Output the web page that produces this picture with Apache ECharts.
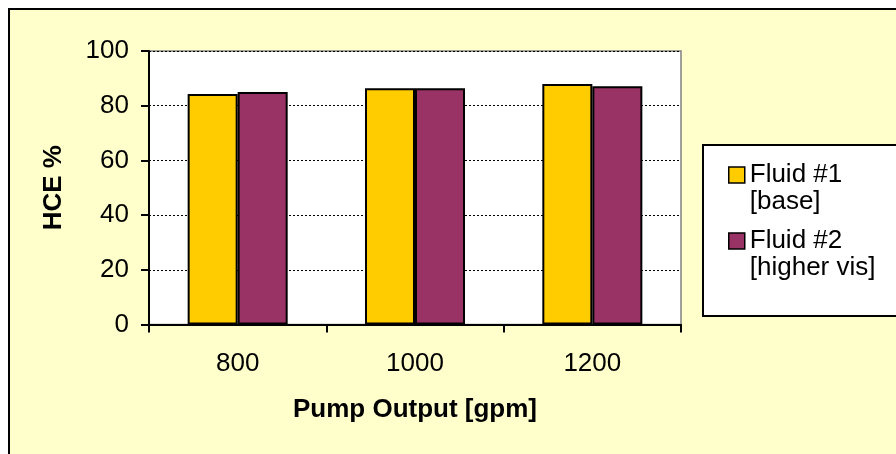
<!DOCTYPE html>
<html><head><meta charset="utf-8">
<script src="https://cdn.jsdelivr.net/npm/echarts@6/dist/echarts.min.js"></script>
<style>
html,body{margin:0;padding:0;background:#fff;overflow:hidden;width:896px;height:454px}
#frame{position:absolute;left:8px;top:8px;width:1000px;height:1000px;border:2px solid #000;background:#FFFFCC}
#chart{position:absolute;left:0;top:0;width:896px;height:454px}
</style></head><body>
<div id="frame"></div><div id="chart"></div>
<script>
const categories = ['800', '1000', '1200'];
const seriesNames = ['Fluid #1\n[base]', 'Fluid #2\n[higher vis]'];
const fluid1 = [84.3, 86.4, 87.9];
const fluid2 = [85.0, 86.4, 87.1];
const yMin = 0, yMax = 100, yStep = 20;
const xTitle = 'Pump Output [gpm]';
const yTitle = 'HCE %';

const FONT = "'Liberation Sans', Arial, sans-serif";
const FS = 26;
const chart = echarts.init(document.getElementById('chart'), null, {renderer: 'canvas'});
chart.setOption({
  animation: false,
  backgroundColor: 'transparent',
  textStyle: {fontFamily: FONT, color: '#000'},
  grid: {
    left: 149, top: 51, right: 215, bottom: 129.5,
    show: true, backgroundColor: '#fff', borderColor: '#808080', borderWidth: 1.5,
    containLabel: false
  },
  legend: {
    orient: 'vertical',
    left: 703, top: 145,
    padding: [16.5, 40, 34.5, 25],
    backgroundColor: '#fff', borderColor: '#000', borderWidth: 2, borderRadius: 0,
    itemWidth: 16, itemHeight: 43, itemGap: 12,
    icon: 'path://M0,0L16,0L16,16L0,16Z M16,43L16,43',
    itemStyle: {borderColor: '#000', borderWidth: 1.5},
    textStyle: {fontFamily: FONT, fontSize: FS, color: '#000', lineHeight: 27},
    selectedMode: false,
    data: seriesNames
  },
  xAxis: {
    type: 'category',
    data: categories,
    name: xTitle, nameLocation: 'middle', nameGap: 72,
    nameTextStyle: {fontFamily: FONT, fontSize: FS, fontWeight: 'bold', color: '#000'},
    axisLine: {show: true, lineStyle: {color: '#000', width: 2}},
    axisTick: {show: true, length: 8, lineStyle: {color: '#000', width: 2}},
    axisLabel: {fontFamily: FONT, fontSize: FS, color: '#000', margin: 26},
    splitLine: {show: false}
  },
  yAxis: {
    type: 'value', min: yMin, max: yMax, interval: yStep,
    name: yTitle, nameLocation: 'middle', nameGap: 82,
    nameTextStyle: {fontFamily: FONT, fontSize: FS, fontWeight: 'bold', color: '#000'},
    axisLine: {show: true, lineStyle: {color: '#000', width: 2}},
    axisTick: {show: true, length: 8, inside: false, lineStyle: {color: '#000', width: 2}},
    axisLabel: {fontFamily: FONT, fontSize: FS, color: '#000', margin: 20},
    splitLine: {show: true, lineStyle: {color: '#000', width: 1, type: [2, 2]}}
  },
  series: [
    {name: seriesNames[0], type: 'bar', data: fluid1, barGap: '0%', barCategoryGap: '43.6%',
     itemStyle: {color: '#FFCC00', borderColor: '#000', borderWidth: 2}},
    {name: seriesNames[1], type: 'bar', data: fluid2, barGap: '0%', barCategoryGap: '43.6%',
     itemStyle: {color: '#993366', borderColor: '#000', borderWidth: 2}}
  ]
});
</script>
</body></html>
